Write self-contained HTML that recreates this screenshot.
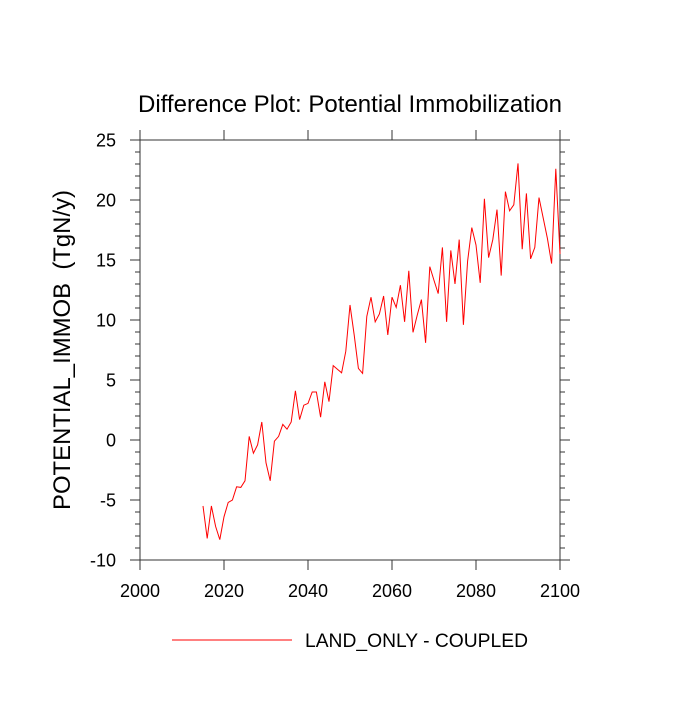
<!DOCTYPE html>
<html><head><meta charset="utf-8"><style>
body{margin:0;background:#fff}
svg text{font-family:"Liberation Sans",Arial,sans-serif;fill:#000}
</style></head><body>
<svg id="chart" width="700" height="700" viewBox="0 0 700 700" xmlns="http://www.w3.org/2000/svg">
<rect x="0" y="0" width="700" height="700" fill="#fff"/>
<text x="350" y="112" font-size="24" textLength="424" lengthAdjust="spacingAndGlyphs" text-anchor="middle">Difference Plot: Potential Immobilization</text>
<text transform="translate(70,350) rotate(-90)" font-size="24" text-anchor="middle" xml:space="preserve" textLength="320" lengthAdjust="spacingAndGlyphs">POTENTIAL_IMMOB  (TgN/y)</text>
<g id="axes"></g>
<path id="series" fill="none" stroke="#ff0000" stroke-width="1"/>
<g>
<line x1="172" y1="640" x2="292" y2="640" stroke="#ff0000" stroke-width="1"/>
<text x="305" y="647" font-size="19" textLength="223" lengthAdjust="spacingAndGlyphs">LAND_ONLY - COUPLED</text>
</g>
</svg>
<script>
const years = [];
for (let y = 2015; y <= 2100; y++) years.push(y);
const values = [-5.5,-8.2,-5.5,-7.2,-8.3,-6.4,-5.2,-5.0,-3.9,-3.95,-3.4,0.3,-1.1,-0.4,1.5,-1.9,-3.4,-0.1,0.3,1.3,0.9,1.5,4.1,1.7,2.9,3.05,4.0,4.0,1.9,4.85,3.2,6.2,5.9,5.6,7.4,11.25,8.75,5.97,5.55,10.3,11.9,9.85,10.5,12.0,8.75,11.9,11.05,12.9,9.85,14.1,8.97,10.4,11.7,8.1,14.45,13.3,12.2,16.05,9.85,15.8,13.0,16.7,9.6,14.9,17.7,16.25,13.1,20.1,15.2,16.7,19.2,13.7,20.7,19.1,19.6,23.05,15.9,20.55,15.1,16.05,20.2,18.5,16.8,14.7,22.6,15.5];
const xTicks = [2000,2020,2040,2060,2080,2100];
const yTicks = [-10,-5,0,5,10,15,20,25];
const X0=140,X1=560,Y0=560,Y1=140;
const xMin=2000,xMax=2100,yMin=-10,yMax=25;
function sx(v){return X0+(v-xMin)/(xMax-xMin)*(X1-X0);}
function sy(v){return Y0-(v-yMin)/(yMax-yMin)*(Y0-Y1);}
const NS="http://www.w3.org/2000/svg";
const g=document.getElementById('axes');
function ln(x1,y1,x2,y2,name){const l=document.createElementNS(NS,'line');
l.setAttribute('x1',x1);l.setAttribute('y1',y1);l.setAttribute('x2',x2);l.setAttribute('y2',y2);
l.setAttribute('stroke','#333');l.setAttribute('stroke-width','1');


g.appendChild(l);}
function tx(x,y,s,anchor,name){const t=document.createElementNS(NS,'text');
t.setAttribute('x',x);t.setAttribute('y',y);t.setAttribute('font-size','18');t.setAttribute('text-anchor',anchor);t.textContent=s;


g.appendChild(t);}
const fr=document.createElementNS(NS,'rect');
fr.setAttribute('x',X0);fr.setAttribute('y',Y1);fr.setAttribute('width',X1-X0);fr.setAttribute('height',Y0-Y1);
fr.setAttribute('fill','none');fr.setAttribute('stroke','#333');


g.appendChild(fr);
xTicks.forEach(v=>{const x=sx(v);ln(x,Y0,x,Y0+10,'x-tick');ln(x,Y1,x,Y1-10,'x-tick-top');tx(x,Y0+37,String(v),'middle','x-tick-label');});
for(let v=yMin;v<=yMax;v++){const y=sy(v);const major=(v%5===0);const L=major?10:5;
ln(X0-L,y,X0,y,major?'y-tick':'y-minor-tick');ln(X1,y,X1+L,y,major?'y-tick-right':'y-minor-tick-right');}
yTicks.forEach(v=>{tx(X0-24,sy(v)+6.5,String(v),'end','y-tick-label');});
document.getElementById('series').setAttribute('d',values.map((v,i)=>(i?'L':'M')+sx(years[i]).toFixed(1)+' '+sy(v).toFixed(1)).join(' '));
</script>
</body></html>
